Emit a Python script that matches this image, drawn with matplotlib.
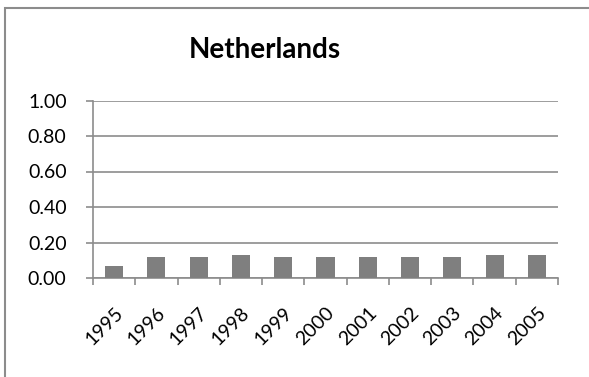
import matplotlib.pyplot as plt
import matplotlib.transforms as mtransforms
from matplotlib.patches import Rectangle

years = ['1995', '1996', '1997', '1998', '1999', '2000', '2001', '2002', '2003', '2004', '2005']
values = [0.07, 0.12, 0.12, 0.13, 0.12, 0.12, 0.12, 0.12, 0.12, 0.13, 0.13]
yticks = [0.0, 0.2, 0.4, 0.6, 0.8, 1.0]

plt.rcParams['font.family'] = ['Lato', 'DejaVu Sans']

fig = plt.figure(figsize=(5.89, 3.77), dpi=100)
ax = fig.add_axes([93/589, 1 - 278/377, (558-93)/589, (278-100.5)/377])

x = list(range(len(years)))
ax.bar(x, values, width=0.43, color='#7f7f7f', zorder=3)

ax.set_xlim(-0.5, len(years) - 0.5)
ax.set_ylim(0, 1.0)
ax.set_yticks(yticks)
ax.set_yticklabels(['%.2f' % v for v in yticks], fontsize=14)
ax.yaxis.grid(True, color='#8c8c8c', linewidth=1.2, zorder=0)

ax.set_xticks([i - 0.5 for i in range(len(years) + 1)])
ax.set_xticklabels([])
ax.set_xticks(x, minor=True)
ax.set_xticklabels(years, minor=True, rotation=45, ha='right', rotation_mode='anchor', fontsize=14)
shift = mtransforms.ScaledTranslation(-5/100, 0, fig.dpi_scale_trans)
for lab in ax.get_xticklabels(minor=True):
    lab.set_transform(lab.get_transform() + shift)
ax.tick_params(axis='x', which='minor', length=0, pad=19)
ax.tick_params(axis='x', which='major', length=5, width=1.2, color='#8c8c8c')
ax.tick_params(axis='y', length=5, width=1.2, color='#8c8c8c', pad=14)

for side in ['top', 'right']:
    ax.spines[side].set_visible(False)
for side in ['left', 'bottom']:
    ax.spines[side].set_color('#8c8c8c')
    ax.spines[side].set_linewidth(1.2)

fig.text(265/589, 1 - 50/377, 'Netherlands', ha='center', va='center', fontsize=20, fontweight='bold')

# chart frame: only left and top edges are visible in the crop
fig.patches.append(Rectangle((5/589, -0.05), 1.0, 1.05 - 8/377, transform=fig.transFigure,
                             fill=False, edgecolor='#8c8c8c', linewidth=1.5))

fig.savefig('out.png', dpi=100)
